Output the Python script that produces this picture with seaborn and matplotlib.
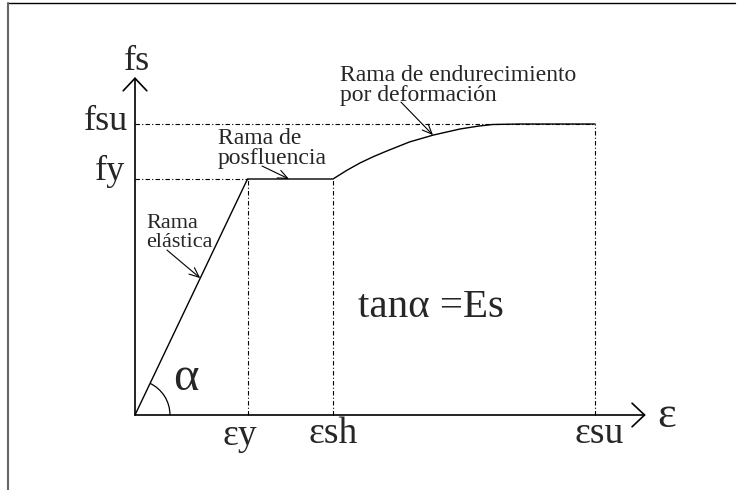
import numpy as np
import pandas as pd
import matplotlib
matplotlib.use("Agg")
import matplotlib.pyplot as plt
from matplotlib.patches import Arc
from matplotlib.lines import Line2D
import seaborn as sns

# Idealised stress-strain law for reinforcing steel (normalised units)
eps_y = 1.00     # yield strain
eps_sh = 1.76    # strain at onset of strain hardening
eps_su = 4.09    # ultimate strain
f_y = 1.000      # yield stress
f_su = 1.233     # ultimate stress

strain = [0.00, eps_y, eps_sh, 1.88, 2.00, 2.12, 2.24, 2.44, 2.65, 2.89, 3.05, 3.18, 3.42, eps_su]
stress = [0.000, f_y, f_y, 1.036, 1.068, 1.095, 1.119, 1.157, 1.186, 1.212, 1.224, 1.231, 1.233, f_su]

x_labels = ["εy", "εsh", "εsu"]
y_labels = ["fy", "fsu"]

df = pd.DataFrame({"strain": strain, "stress": stress})

sns.set_style("white")
plt.rcParams["font.family"] = ["Liberation Serif", "DejaVu Serif"]

fig = plt.figure(figsize=(7.37, 4.90), dpi=100)
ax = fig.add_axes([0, 0, 1, 1])
ax.set_xlim(-1.2, 5.351)
ax.set_ylim(-0.3178, 1.7585)
ax.axis("off")

# stress-strain curve
sns.lineplot(data=df, x="strain", y="stress", ax=ax, color="black",
             linewidth=1.0, sort=False, estimator=None)

# guide lines
guide = dict(color="black", linewidth=0.8, linestyle=(0, (4, 2, 1, 2)))
ax.plot([0, eps_y], [f_y, f_y], **guide)
ax.plot([0, eps_su], [f_su, f_su], **guide)
for xv, yv in [(eps_y, f_y), (eps_sh, f_y), (eps_su, f_su)]:
    ax.plot([xv, xv], [0, yv], **guide)

# coordinate axes with open arrow heads
axis_arrow = dict(arrowstyle="->,head_length=0.9,head_width=0.85",
                  color="black", linewidth=1.2, mutation_scale=10,
                  shrinkA=0, shrinkB=0)
ax.annotate("", xy=(0, 1.432), xytext=(0, 0), arrowprops=axis_arrow)
ax.annotate("", xy=(4.54, 0), xytext=(0, 0), arrowprops=axis_arrow)

big = 26
ax.text(0.013, 1.462, "fs", fontsize=big, ha="center", va="baseline")
ax.text(-0.062, 1.208, y_labels[1], fontsize=big, ha="right", va="baseline")
ax.text(-0.089, 0.996, y_labels[0], fontsize=big, ha="right", va="baseline")
ax.text(eps_y - 0.067, -0.127, x_labels[0], fontsize=27, ha="center", va="baseline")
ax.text(eps_sh, -0.119, x_labels[1], fontsize=27, ha="center", va="baseline")
ax.text(eps_su + 0.04, -0.119, x_labels[2], fontsize=27, ha="center", va="baseline")
ax.text(4.64, -0.051, "ε", fontsize=32, ha="left", va="baseline")

# slope angle of the elastic branch
theta = np.degrees(np.arctan2(f_y, eps_y))
ax.add_patch(Arc((0, 0), 0.622, 0.297, theta1=0, theta2=theta,
                 color="black", linewidth=0.9))
ax.text(0.338, 0.106, "α", fontsize=35, ha="left", va="baseline")
ax.text(1.982, 0.415, "tanα =Es", fontsize=29.5, ha="left", va="baseline")

# branch annotations
note_arrow = dict(arrowstyle="->,head_length=0.7,head_width=0.3",
                  color="black", linewidth=0.8, mutation_scale=10,
                  shrinkA=0, shrinkB=0)
small = 17
ax.text(0.10, 0.85, "Rama\nelástica", fontsize=16, ha="left",
        va="top", linespacing=0.95)
ax.annotate("", xy=(0.58, 0.58), xytext=(0.284, 0.699), arrowprops=note_arrow)

ax.text(0.738, 1.215, "Rama de\nposfluencia", fontsize=small, ha="left",
        va="top", linespacing=0.95)
ax.annotate("", xy=(1.369, f_y), xytext=(1.129, 1.055), arrowprops=note_arrow)

ax.text(1.822, 1.485, "Rama de endurecimiento\npor deformación", fontsize=small,
        ha="left", va="top", linespacing=0.95)
ax.annotate("", xy=(2.649, 1.186), xytext=(2.364, 1.326), arrowprops=note_arrow)

# page frame
fig.add_artist(Line2D([8 / 737, 735 / 737], [487 / 490, 487 / 490],
                      transform=fig.transFigure, color="black", linewidth=1.0))
fig.add_artist(Line2D([8 / 737, 8 / 737], [0, 487 / 490],
                      transform=fig.transFigure, color="#666666", linewidth=1.5))

fig.savefig("out.png", dpi=100)
